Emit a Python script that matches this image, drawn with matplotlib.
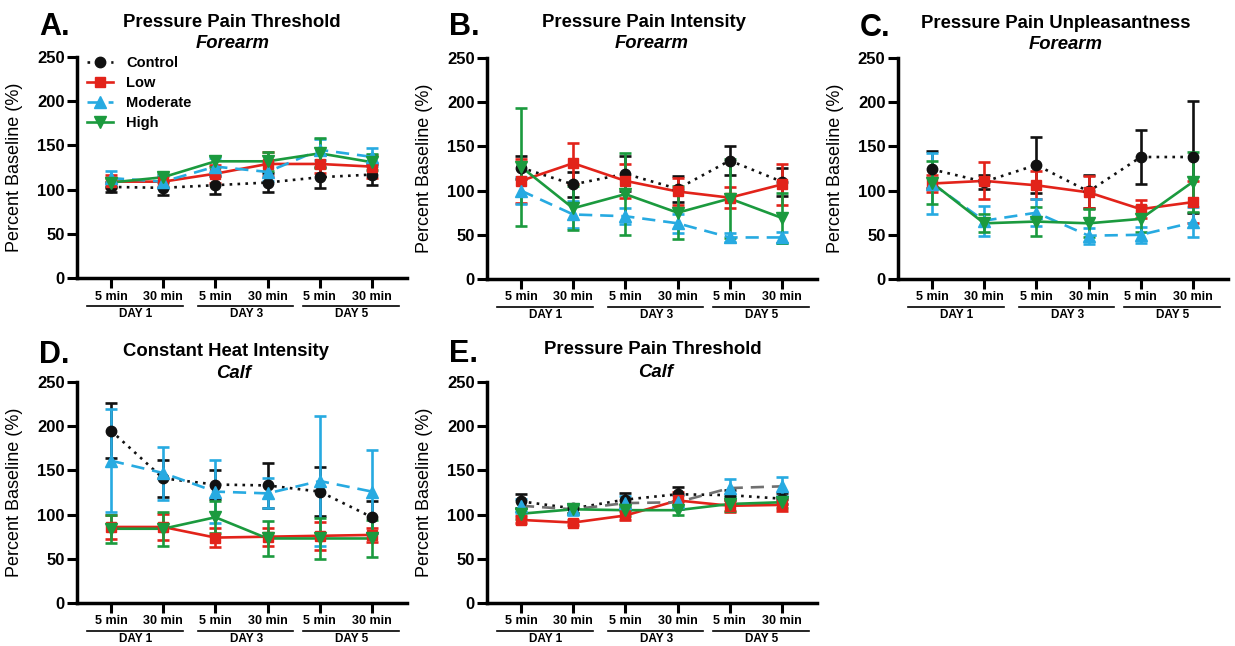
import numpy as np
import matplotlib
matplotlib.use("Agg")
import matplotlib.pyplot as plt
from matplotlib.lines import Line2D

plt.rcParams['font.family'] = ['Liberation Sans', 'DejaVu Sans']

# x categories
time_labels = ['5 min', '30 min', '5 min', '30 min', '5 min', '30 min']
day_labels = ['DAY 1', 'DAY 3', 'DAY 5']
series_names = ['Control', 'Low', 'Moderate', 'High']

# A. Pressure pain threshold, forearm
a_control = [103, 102, 105, 108, 114, 117]
a_control_se = [6, 8, 10, 11, 12, 12]
a_low = [109, 109, 118, 129, 129, 126]
a_low_se = [7, 6, 10, 14, 10, 13]
a_moderate = [113, 109, 126, 120, 145, 137]
a_moderate_se = [8, 7, 10, 10, 12, 10]
a_high = [108, 114, 132, 132, 141, 131]
a_high_se = [5, 5, 6, 11, 17, 9]

# B. Pressure pain intensity, forearm
b_control = [126, 107, 119, 102, 134, 110]
b_control_se = [13, 14, 20, 15, 16, 16]
b_low = [111, 131, 111, 99, 92, 107]
b_low_se = [25, 23, 19, 15, 12, 23]
b_moderate = [100, 73, 71, 63, 47, 47]
b_moderate_se = [15, 15, 9, 11, 5, 6]
b_high = [127, 80, 96, 75, 91, 69]
b_high_se = [67, 25, 46, 30, 45, 28]

# C. Pressure pain unpleasantness, forearm
c_control = [124, 110, 129, 99, 138, 138]
c_control_se = [21, 8, 32, 19, 30, 63]
c_low = [108, 111, 106, 98, 79, 87]
c_low_se = [10, 21, 16, 18, 10, 24]
c_moderate = [108, 66, 75, 49, 50, 64]
c_moderate_se = [34, 17, 15, 9, 9, 17]
c_high = [109, 63, 65, 63, 68, 110]
c_high_se = [24, 10, 16, 16, 15, 34]

# D. Constant heat intensity, calf
d_control = [195, 141, 134, 133, 126, 97]
d_control_se = [31, 21, 16, 25, 28, 18]
d_low = [86, 86, 74, 75, 76, 77]
d_low_se = [14, 15, 11, 10, 16, 8]
d_moderate = [161, 147, 126, 124, 138, 126]
d_moderate_se = [58, 30, 36, 17, 73, 47]
d_high = [84, 84, 97, 73, 73, 73]
d_high_se = [16, 19, 18, 20, 23, 21]

# E. Pressure pain threshold, calf
e_control = [115, 107, 117, 123, 122, 118]
e_control_se = [8, 5, 8, 8, 6, 6]
e_low = [94, 91, 99, 116, 110, 111]
e_low_se = [4, 3, 5, 10, 7, 7]
e_moderate = [110, 106, 113, 114, 130, 132]
e_moderate_se = [8, 6, 8, 8, 10, 11]
e_high = [101, 106, 105, 105, 112, 114]
e_high_se = [6, 4, 7, 5, 8, 6]

BLACK = '#111111'
RED = '#E2231A'
BLUE = '#27AAE1'
GREEN = '#1B9A3E'
GREY = '#707070'

styles = {
    'Control': dict(color=BLACK, ls=(0, (1, 2)), marker='o', ms=7.5),
    'Low': dict(color=RED, ls='-', marker='s', ms=7.5),
    'Moderate': dict(color=BLUE, ls=(0, (5, 3)), marker='^', ms=8),
    'High': dict(color=GREEN, ls='-', marker='v', ms=8),
}


def draw_panel(ax, letter, title, site, data, tx, sx, ty, sy, moderate_line=None):
    x = np.arange(len(time_labels))
    for name, (mean, se) in zip(series_names, data):
        st = styles[name]
        lc = st['color']
        if name == 'Moderate' and moderate_line is not None:
            lc = moderate_line
        ax.errorbar(x, mean, yerr=se, color=st['color'], ecolor=st['color'],
                    elinewidth=1.9, capsize=4.5, capthick=1.9, ls='none',
                    zorder=2)
        ax.plot(x, mean, color=lc, ls=st['ls'], lw=1.9, zorder=3)
        ax.plot(x, mean, color=st['color'], ls='none', marker=st['marker'],
                ms=st['ms'], zorder=4)

    ax.set_xlim(-0.65, 5.67)
    ax.set_ylim(0, 250)
    ax.set_yticks([0, 50, 100, 150, 200, 250])
    ax.set_xticks(x)
    ax.set_xticklabels(time_labels, fontsize=9, fontweight='bold')
    for lab in ax.get_yticklabels():
        lab.set_fontsize(12)
        lab.set_fontweight('bold')
    ax.tick_params(axis='both', direction='out', length=7, width=2.2, pad=2)
    for side in ['top', 'right']:
        ax.spines[side].set_visible(False)
    for side in ['left', 'bottom']:
        ax.spines[side].set_linewidth(2.5)
    ax.set_ylabel('Percent Baseline (%)', fontsize=13)
    ax.yaxis.set_label_coords(-0.165, 0.5)

    # day grouping under the tick labels
    trans = ax.get_xaxis_transform()
    spans = [(-0.46, 1.38), (1.67, 3.49), (3.68, 5.51)]
    for (x0, x1), lab in zip(spans, day_labels):
        ax.plot([x0, x1], [-0.127, -0.127], color='black', lw=1.2,
                transform=trans, clip_on=False)
        ax.text((x0 + x1) / 2 + 0.02, -0.165, lab, transform=trans,
                ha='center', va='center', fontsize=8.5, fontweight='bold')

    ax.text(tx, ty, title, transform=ax.transAxes, ha='center', va='center',
            fontsize=13.3, fontweight='bold')
    ax.text(sx, sy, site, transform=ax.transAxes, ha='center', va='center',
            fontsize=13.3, fontweight='bold', style='italic')
    ax.text(-0.115, ty - 0.02, letter, transform=ax.transAxes, ha='left',
            va='center', fontsize=22, fontweight='bold')


fig = plt.figure(figsize=(12.35, 6.46), dpi=100)
w, h = 330 / 1235, 221 / 646
axA = fig.add_axes([77 / 1235, 1 - 278 / 646, w, h])
axB = fig.add_axes([487 / 1235, 1 - 279 / 646, w, h])
axC = fig.add_axes([898 / 1235, 1 - 279 / 646, w, h])
axD = fig.add_axes([77 / 1235, 1 - 603 / 646, w, h])
axE = fig.add_axes([487 / 1235, 1 - 603 / 646, w, h])

draw_panel(axA, 'A.', 'Pressure Pain Threshold', 'Forearm',
           [(a_control, a_control_se), (a_low, a_low_se),
            (a_moderate, a_moderate_se), (a_high, a_high_se)],
           0.470, 0.473, 1.155, 1.060)
draw_panel(axB, 'B.', 'Pressure Pain Intensity', 'Forearm',
           [(b_control, b_control_se), (b_low, b_low_se),
            (b_moderate, b_moderate_se), (b_high, b_high_se)],
           0.476, 0.500, 1.160, 1.064)
draw_panel(axC, 'C.', 'Pressure Pain Unpleasantness', 'Forearm',
           [(c_control, c_control_se), (c_low, c_low_se),
            (c_moderate, c_moderate_se), (c_high, c_high_se)],
           0.479, 0.509, 1.158, 1.062)
draw_panel(axD, 'D.', 'Constant Heat Intensity', 'Calf',
           [(d_control, d_control_se), (d_low, d_low_se),
            (d_moderate, d_moderate_se), (d_high, d_high_se)],
           0.452, 0.473, 1.140, 1.040)
draw_panel(axE, 'E.', 'Pressure Pain Threshold', 'Calf',
           [(e_control, e_control_se), (e_low, e_low_se),
            (e_moderate, e_moderate_se), (e_high, e_high_se)],
           0.503, 0.512, 1.145, 1.042, moderate_line=GREY)

handles = []
for name in series_names:
    st = styles[name]
    handles.append(Line2D([], [], color=st['color'], ls=st['ls'], lw=1.9,
                          marker=st['marker'], ms=st['ms']))
leg = axA.legend(handles, series_names, loc='upper left',
                 bbox_to_anchor=(0.03, 1.005), frameon=False, borderpad=0,
                 borderaxespad=0, handlelength=1.8, handletextpad=0.9,
                 labelspacing=0.42, prop={'size': 10.5, 'weight': 'bold'})

fig.savefig('out.png', dpi=100)
